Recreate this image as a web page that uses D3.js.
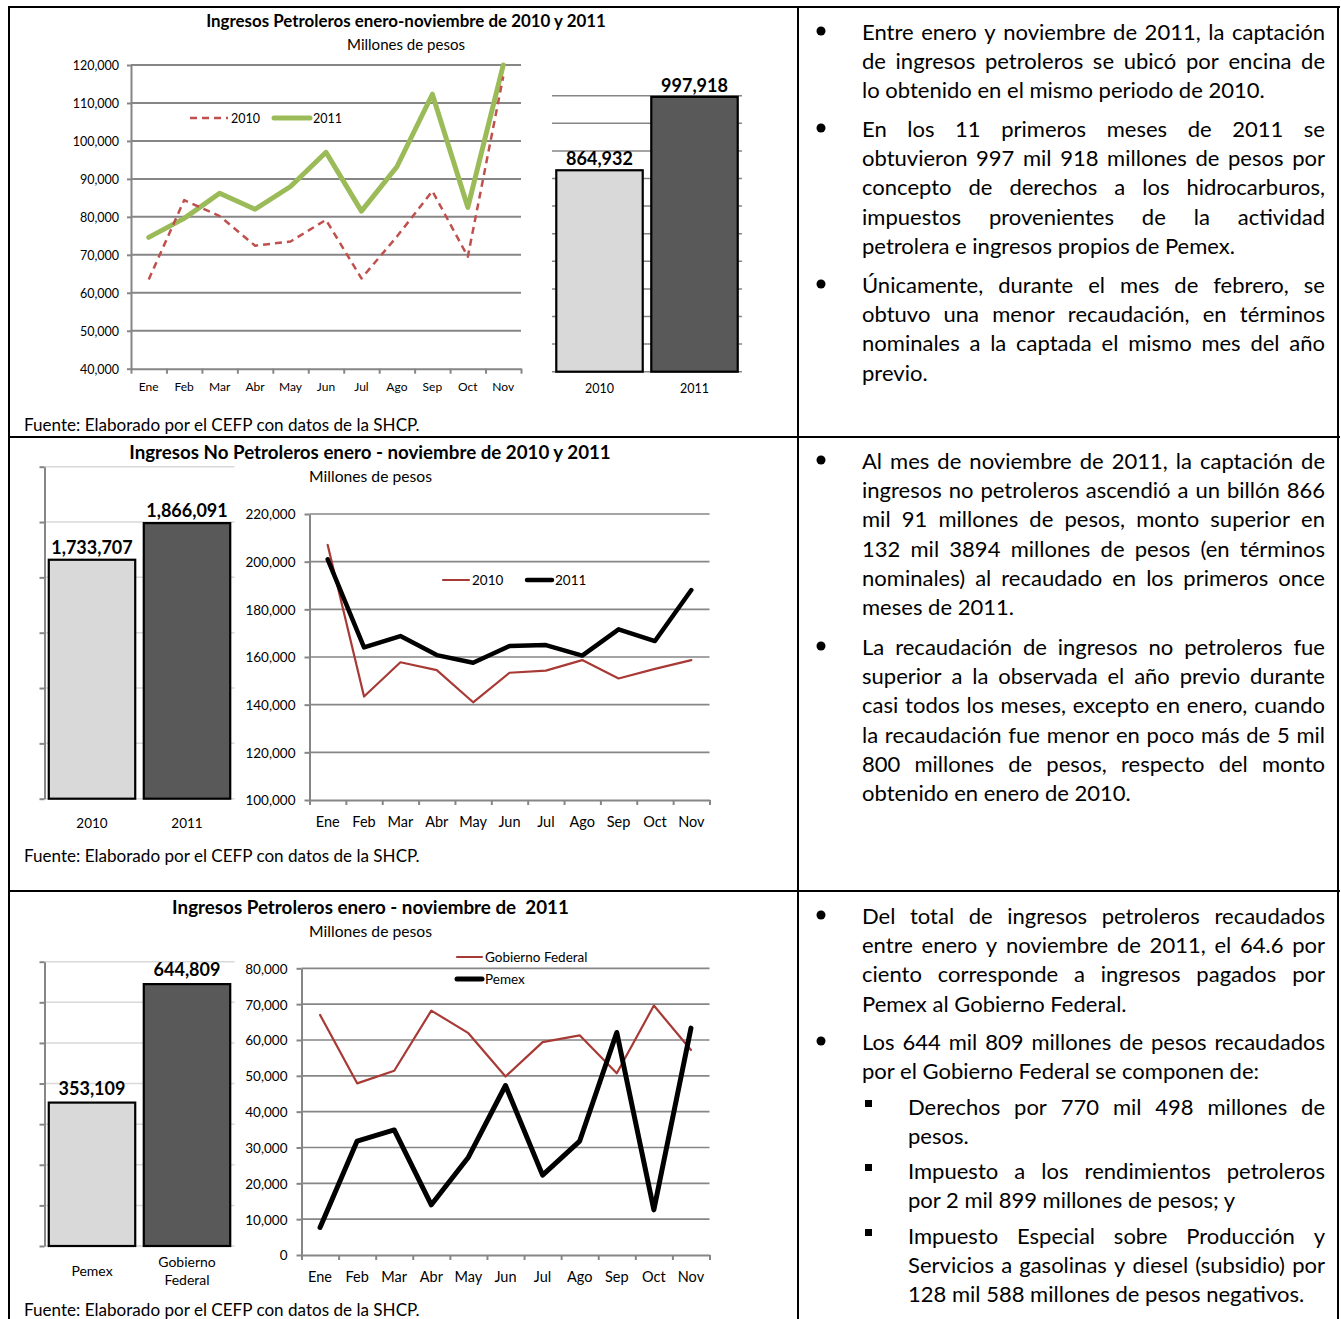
<!DOCTYPE html>
<html>
<head>
<meta charset="utf-8">
<script src="https://cdnjs.cloudflare.com/ajax/libs/d3/7.8.5/d3.min.js"></script>
<style>
  body { margin: 0; background: #fff; }
  svg text { font-family: Lato, "Open Sans", sans-serif; fill: #000; }
</style>
</head>
<body>
<svg id="page" width="1341" height="1319"></svg>
<script>
// ---- data ----
var MONTHS = ["Ene", "Feb", "Mar", "Abr", "May", "Jun", "Jul", "Ago", "Sep", "Oct", "Nov"];

var PET_2010 = [63500, 84400, 80200, 72400, 73500, 79200, 63800, 74800, 86800, 69500, 117000];
var PET_2011 = [74600, 79600, 86200, 82000, 88000, 97000, 81500, 93200, 112300, 82500, 120000];
var PET_YEARS = ["2010", "2011"];
var PET_TOTAL = [864932, 997918];

var NOPET_2010 = [207000, 143400, 157800, 154500, 141000, 153400, 154300, 158700, 151000, 155000, 158700];
var NOPET_2011 = [201000, 164000, 168800, 160800, 157600, 164600, 165000, 160600, 171600, 166700, 188100];
var NOPET_YEARS = ["2010", "2011"];
var NOPET_TOTAL = [1733707, 1866091];

var GOB_FED = [67000, 47900, 51400, 68200, 61900, 49800, 59400, 61300, 50700, 69600, 57200];
var PEMEX = [7700, 31800, 34900, 14000, 27300, 47300, 22300, 31800, 62100, 12600, 63300];
var DIST_CATS = ["Pemex", "Gobierno Federal"];
var DIST_TOTAL = [353109, 644809];

var FUENTE = "Fuente: Elaborado por el CEFP con datos de la SHCP.";

var NOTES_TOP = [
  {y: 33, mark: "dot", x: 862, lines: [
    "Entre enero y noviembre de 2011, la captación",
    "de ingresos petroleros se ubicó por encina de",
    "lo obtenido en el mismo periodo de 2010."]},
  {y: 130, mark: "dot", x: 862, lines: [
    "En los 11 primeros meses de 2011 se",
    "obtuvieron 997 mil 918 millones de pesos por",
    "concepto de derechos a los hidrocarburos,",
    "impuestos provenientes de la actividad",
    "petrolera e ingresos propios de Pemex."]},
  {y: 286, mark: "dot", x: 862, lines: [
    "Únicamente, durante el mes de febrero, se",
    "obtuvo una menor recaudación, en términos",
    "nominales a la captada el mismo mes del año",
    "previo."]}
];
var NOTES_MID = [
  {y: 462, mark: "dot", x: 862, lines: [
    "Al mes de noviembre de 2011, la captación de",
    "ingresos no petroleros ascendió a un billón 866",
    "mil 91 millones de pesos, monto superior en",
    "132 mil 3894 millones de pesos (en términos",
    "nominales) al recaudado en los primeros once",
    "meses de 2011."]},
  {y: 648, mark: "dot", x: 862, lines: [
    "La recaudación de ingresos no petroleros fue",
    "superior a la observada el año previo durante",
    "casi todos los meses, excepto en enero, cuando",
    "la recaudación fue menor en poco más de 5 mil",
    "800 millones de pesos, respecto del monto",
    "obtenido en enero de 2010."]}
];
var NOTES_BOT = [
  {y: 917, mark: "dot", x: 862, lines: [
    "Del total de ingresos petroleros recaudados",
    "entre enero y noviembre de 2011, el 64.6 por",
    "ciento corresponde a ingresos pagados por",
    "Pemex al Gobierno Federal."]},
  {y: 1043, mark: "dot", x: 862, lines: [
    "Los 644 mil 809 millones de pesos recaudados",
    "por el Gobierno Federal se componen de:"]},
  {y: 1108, mark: "square", x: 908, lines: [
    "Derechos por 770 mil 498 millones de",
    "pesos."]},
  {y: 1172, mark: "square", x: 908, lines: [
    "Impuesto a los rendimientos petroleros",
    "por 2 mil 899 millones de pesos; y"]},
  {y: 1237, mark: "square", x: 908, lines: [
    "Impuesto Especial sobre Producción y",
    "Servicios a gasolinas y diesel (subsidio) por",
    "128 mil 588 millones de pesos negativos."]}
];

var GRID = "#868686";
var RED = "#a83a36";

var svg = d3.select("#page");

// put a text and optionally stretch its font so it spans a given width
function addText(x, y, str, size, anchor, bold, width) {
  var t = svg.append("text")
      .attr("x", x)
      .attr("y", y)
      .attr("text-anchor", anchor || "start")
      .style("font-size", size + "px")
      .style("white-space", "pre")
      .text(str);
  if (bold) t.style("font-weight", "bold");
  if (width) {
    var len = t.node().getComputedTextLength();
    t.style("font-size", (size * width / len) + "px");
  }
  return t;
}

// ---- table frame ----
var frame = svg.append("g").attr("stroke", "#000").attr("stroke-width", 2);
frame.append("line").attr("x1", 9).attr("x2", 1340).attr("y1", 7).attr("y2", 7);
frame.append("line").attr("x1", 9).attr("x2", 9).attr("y1", 6).attr("y2", 1319);
frame.append("line").attr("x1", 1338).attr("x2", 1338).attr("y1", 6).attr("y2", 1319);
frame.append("line").attr("x1", 798).attr("x2", 798).attr("y1", 6).attr("y2", 1319);
frame.append("line").attr("x1", 9).attr("x2", 1340).attr("y1", 437).attr("y2", 437);
frame.append("line").attr("x1", 9).attr("x2", 1340).attr("y1", 891).attr("y2", 891);

// ---- line charts ----
function drawLineChart(cfg) {
  var g = svg.append("g");
  var x = d3.scaleBand().domain(MONTHS).range([cfg.left, cfg.right]);
  var y = d3.scaleLinear().domain(cfg.domain).range([cfg.bottom, cfg.top]);
  var yTicks = d3.range(cfg.domain[0], cfg.domain[1] + 1, cfg.step);

  g.selectAll(".grid")
    .data(yTicks.slice(1))
    .enter().append("line")
      .attr("x1", cfg.left)
      .attr("x2", cfg.right)
      .attr("y1", function(d) { return y(d); })
      .attr("y2", function(d) { return y(d); })
      .attr("stroke", GRID)
      .attr("stroke-width", cfg.gridW);

  var ya = g.append("g")
      .attr("transform", "translate(" + cfg.left + ",0)")
      .call(d3.axisLeft(y).tickValues(yTicks).tickSize(cfg.tick).tickSizeOuter(0)
            .tickPadding(cfg.pad).tickFormat(d3.format(",")));
  ya.select(".domain").attr("stroke", GRID).attr("stroke-width", 2);
  ya.selectAll(".tick line").attr("stroke", GRID).attr("stroke-width", 2);
  ya.selectAll(".tick text").style("font-size", cfg.fs + "px").attr("dy", "0.36em");

  // tick marks between the months
  var xb = d3.scaleLinear().domain([0, MONTHS.length]).range([cfg.left, cfg.right]);
  var xa = g.append("g")
      .attr("transform", "translate(0," + cfg.bottom + ")")
      .call(d3.axisBottom(xb).tickValues(d3.range(0, MONTHS.length + 1))
            .tickSize(5).tickSizeOuter(0).tickFormat(""));
  xa.select(".domain").attr("stroke", GRID).attr("stroke-width", 2);
  xa.selectAll(".tick line").attr("stroke", GRID).attr("stroke-width", 2);

  g.selectAll(".month")
    .data(MONTHS)
    .enter().append("text")
      .attr("x", function(d) { return x(d) + x.bandwidth() / 2; })
      .attr("y", cfg.labelY)
      .attr("text-anchor", "middle")
      .style("font-size", cfg.mfs + "px")
      .text(function(d) { return d; });

  var line = d3.line()
      .x(function(d, i) { return x(MONTHS[i]) + x.bandwidth() / 2; })
      .y(function(d) { return y(d); });

  cfg.series.forEach(function(s) {
    g.append("path")
      .datum(s.values)
      .attr("d", line)
      .attr("fill", "none")
      .attr("stroke", s.color)
      .attr("stroke-width", s.width)
      .attr("stroke-dasharray", s.dash || null)
      .attr("stroke-linejoin", "round")
      .attr("stroke-linecap", s.dash ? "butt" : "round");
  });

  cfg.legend.forEach(function(l) {
    var s = cfg.series[l.s];
    g.append("line")
      .attr("x1", l.x1).attr("x2", l.x2).attr("y1", l.y).attr("y2", l.y)
      .attr("stroke", s.color)
      .attr("stroke-width", s.width)
      .attr("stroke-dasharray", s.dash || null)
      .attr("stroke-linecap", s.dash ? "butt" : "round");
    g.append("text")
      .attr("x", l.x2 + 3)
      .attr("y", l.y + cfg.lfs * 0.36)
      .style("font-size", cfg.lfs + "px")
      .text(s.name);
  });
}

// ---- bar charts ----
function drawBarChart(cfg) {
  var g = svg.append("g");
  var x = d3.scaleBand().domain(cfg.cats).range([cfg.left, cfg.right])
      .paddingInner(0.09).paddingOuter(0.045);
  var y = d3.scaleLinear().domain(cfg.domain).range([cfg.bottom, cfg.top]);
  var ticks = d3.range(cfg.domain[0], cfg.domain[1] + 1, cfg.step);

  g.selectAll(".grid")
    .data(ticks)
    .enter().append("line")
      .attr("x1", cfg.left)
      .attr("x2", cfg.right)
      .attr("y1", function(d) { return y(d); })
      .attr("y2", function(d) { return y(d); })
      .attr("stroke", cfg.gridColor)
      .attr("stroke-width", 1.5);

  if (cfg.axis) {
    var ya = g.append("g")
        .attr("transform", "translate(" + cfg.left + ",0)")
        .call(d3.axisLeft(y).tickValues(ticks).tickSize(5).tickSizeOuter(0).tickFormat(""));
    ya.select(".domain").attr("stroke", GRID).attr("stroke-width", 2);
    ya.selectAll(".tick line").attr("stroke", GRID).attr("stroke-width", 2);
  }

  var fills = ["#d9d9d9", "#595959"];
  g.selectAll(".bar")
    .data(cfg.values)
    .enter().append("rect")
      .attr("x", function(d, i) { return x(cfg.cats[i]); })
      .attr("y", function(d) { return y(d); })
      .attr("width", x.bandwidth())
      .attr("height", function(d) { return y(cfg.domain[0]) - y(d); })
      .attr("fill", function(d, i) { return fills[i]; })
      .attr("stroke", "#000")
      .attr("stroke-width", 2.2);

  var fmt = d3.format(",");
  g.selectAll(".val")
    .data(cfg.values)
    .enter().append("text")
      .attr("x", function(d, i) { return x(cfg.cats[i]) + x.bandwidth() / 2; })
      .attr("y", function(d) { return y(d) - cfg.valGap; })
      .attr("text-anchor", "middle")
      .style("font-size", cfg.vfs + "px")
      .style("font-weight", "bold")
      .text(function(d) { return fmt(d); });

  cfg.cats.forEach(function(c, i) {
    var parts = cfg.split ? c.split(" ") : [c];
    var cx = x(c) + x.bandwidth() / 2;
    var y0 = parts.length > 1 ? cfg.labelY2 : cfg.labelY;
    parts.forEach(function(p, j) {
      g.append("text")
        .attr("x", cx)
        .attr("y", y0 + j * 18)
        .attr("text-anchor", "middle")
        .style("font-size", cfg.cfs + "px")
        .text(p);
    });
  });
}

// ---- row 1 ----
addText(406, 27, "Ingresos Petroleros enero-noviembre de 2010 y 2011", 15, "middle", true, 400);
addText(406, 50, "Millones de pesos", 13, "middle", false, 118);
drawLineChart({
  left: 131, right: 521, top: 65, bottom: 368.7,
  domain: [40000, 120000], step: 10000, gridW: 2,
  tick: 4, pad: 8, fs: 12.5, mfs: 12, labelY: 391, lfs: 12.5,
  series: [
    {name: "2011", values: PET_2011, color: "#9bbb59", width: 5},
    {name: "2010", values: PET_2010, color: "#c0504d", width: 2.5, dash: "7,5"}
  ],
  legend: [
    {s: 1, x1: 190, x2: 228, y: 118},
    {s: 0, x1: 274, x2: 310, y: 118}
  ]
});
drawBarChart({
  cats: PET_YEARS, values: PET_TOTAL,
  left: 552, right: 742, top: 95.7, bottom: 371.7,
  domain: [500000, 1000000], step: 50000, gridColor: GRID, axis: false,
  valGap: 5, vfs: 18, cfs: 12.5, labelY: 393
});
addText(24, 431, FUENTE, 16, "start", false, 396);

// ---- row 2 ----
addText(370, 459, "Ingresos No Petroleros enero - noviembre de 2010 y 2011", 15, "middle", true, 482);
addText(370.5, 482, "Millones de pesos", 13, "middle", false, 123);
drawBarChart({
  cats: NOPET_YEARS, values: NOPET_TOTAL,
  left: 44.5, right: 234.5, top: 466.7, bottom: 798.7,
  domain: [870000, 2070000], step: 200000, gridColor: "#d9d9d9", axis: true,
  valGap: 6, vfs: 18, cfs: 13.5, labelY: 828
});
drawLineChart({
  left: 309.5, right: 709.5, top: 514, bottom: 800,
  domain: [100000, 220000], step: 20000, gridW: 1.7,
  tick: 5, pad: 9, fs: 13.5, mfs: 14.5, labelY: 827, lfs: 13.5,
  series: [
    {name: "2010", values: NOPET_2010, color: RED, width: 2.2},
    {name: "2011", values: NOPET_2011, color: "#000", width: 4.5}
  ],
  legend: [
    {s: 0, x1: 443, x2: 469, y: 580},
    {s: 1, x1: 527, x2: 552, y: 580}
  ]
});
addText(24, 862, FUENTE, 16, "start", false, 396);

// ---- row 3 ----
addText(370.5, 914, "Ingresos Petroleros enero - noviembre de  2011", 15, "middle", true, 397);
addText(370.5, 937, "Millones de pesos", 13, "middle", false, 123);
drawBarChart({
  cats: DIST_CATS, values: DIST_TOTAL, split: true,
  left: 44.5, right: 234.5, top: 961.7, bottom: 1246,
  domain: [0, 700000], step: 100000, gridColor: "#d9d9d9", axis: true,
  valGap: 8, vfs: 18, cfs: 14, labelY: 1276, labelY2: 1267
});
drawLineChart({
  left: 301.5, right: 709.5, top: 968.3, bottom: 1255,
  domain: [0, 80000], step: 10000, gridW: 1.7,
  tick: 5, pad: 9, fs: 13.5, mfs: 14.5, labelY: 1282, lfs: 13.5,
  series: [
    {name: "Gobierno Federal", values: GOB_FED, color: RED, width: 2.2},
    {name: "Pemex", values: PEMEX, color: "#000", width: 5}
  ],
  legend: [
    {s: 0, x1: 457, x2: 482, y: 957},
    {s: 1, x1: 457, x2: 482, y: 979}
  ]
});
addText(24, 1316, FUENTE, 16, "start", false, 396);

// ---- notes on the right, justified line by line ----
var probe = svg.append("text").style("font-size", "20px").text("lo obtenido en el mismo periodo de 2010.");
var PFS = 20 * 403 / probe.node().getComputedTextLength();
probe.remove();

function wordWidth(w) {
  var t = svg.append("text").style("font-size", PFS + "px").text(w);
  var len = t.node().getComputedTextLength();
  t.remove();
  return len;
}

function drawNotes(paras) {
  var RIGHT = 1325, LH = 29.2;
  paras.forEach(function(p) {
    if (p.mark === "dot") {
      svg.append("circle").attr("cx", 821).attr("cy", p.y - 2).attr("r", 4.5).attr("fill", "#000");
    } else {
      svg.append("rect").attr("x", 865).attr("y", p.y - 8).attr("width", 7).attr("height", 7).attr("fill", "#000");
    }
    p.lines.forEach(function(str, i) {
      var yy = p.y + 7 + i * LH;
      var t = svg.append("text").attr("y", yy).style("font-size", PFS + "px");
      var last = i === p.lines.length - 1;
      var words = str.split(" ");
      if (last || words.length < 2) {
        t.attr("x", p.x).text(str);
        return;
      }
      var widths = words.map(wordWidth);
      var gap = (RIGHT - p.x - d3.sum(widths)) / (words.length - 1);
      var cx = p.x;
      words.forEach(function(w, k) {
        t.append("tspan").attr("x", cx).text(w);
        cx += widths[k] + gap;
      });
    });
  });
}
drawNotes(NOTES_TOP);
drawNotes(NOTES_MID);
drawNotes(NOTES_BOT);
</script>
</body>
</html>
